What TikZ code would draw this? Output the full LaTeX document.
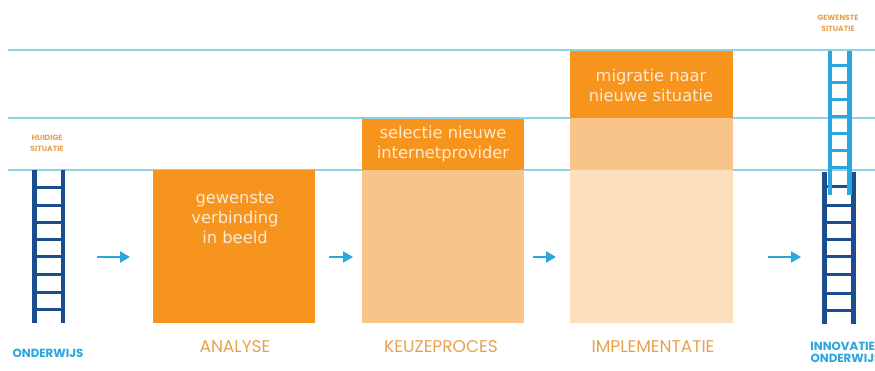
\documentclass[tikz,border=0pt]{standalone}
\usepackage{fontspec}
\setmainfont{DejaVu Sans}
\newfontfamily\labfont{Poppins}
\usetikzlibrary{arrows.meta}
\definecolor{orangeA}{HTML}{F7941D}
\definecolor{orangeB}{HTML}{F9C48A}
\definecolor{orangeC}{HTML}{FCDFBD}
\definecolor{gridcol}{HTML}{8ED3E3}
\definecolor{labcol}{HTML}{E5A24E}
\definecolor{bluetxt}{HTML}{2AA5DD}
\definecolor{darkladder}{HTML}{1A4E8E}
\definecolor{lightladder}{HTML}{2BA6DF}
\definecolor{boxtxt}{HTML}{FDEBD0}
\tikzset{
  gridline/.style={draw=gridcol, line width=1.4pt},
  boxtext/.style={text=boxtxt, align=center, font=\fontsize{16.3}{20}\selectfont, inner sep=0pt},
  phaselabel/.style={text=labcol, font=\labfont\fontsize{17}{18}\selectfont, inner sep=0pt},
  smalllabel/.style={text=labcol, font=\labfont\bfseries\fontsize{7.6}{11}\selectfont, align=center, inner sep=0pt},
  endlabel/.style={text=bluetxt, font=\labfont\bfseries\fontsize{11.8}{11.5}\selectfont, align=center, inner sep=0pt},
  flowarrow/.style={draw=lightladder, line width=2.5pt, -{Triangle[length=10pt,width=11pt]}},
}
\begin{document}
\begin{tikzpicture}[x=1pt,y=-1pt]
\useasboundingbox (0,0) rectangle (875,371);
% horizontal grid lines
\draw[gridline] (8,50) -- (875,50);
\draw[gridline] (8,118) -- (875,118);
\draw[gridline] (8,170) -- (875,170);
% analyse block
\fill[orangeA] (153,170) rectangle (315,323);
\node[boxtext] (analysetext) at (235,218) {gewenste\\verbinding\\in beeld};
% keuzeproces block
\fill[orangeA] (362,119) rectangle (524,170);
\fill[orangeB] (362,170) rectangle (524,323);
\node[boxtext] (keuzetext) at (443,144) {selectie nieuwe\\internetprovider};
% implementatie block
\fill[orangeA] (570,51) rectangle (733,118);
\fill[orangeB] (570,118) rectangle (733,170);
\fill[orangeC] (570,170) rectangle (733,323);
\node[boxtext] (impltext) at (651,85) {migratie naar\\nieuwe situatie};
% left ladder
\fill[darkladder] (32,170) rectangle (36.5,323);
\fill[darkladder] (60.5,170) rectangle (65,323);
\foreach \y in {188,205.5,223,240,257,274.5,292,309.5}
  \fill[darkladder] (32,\y-1.5) rectangle (65,\y+1.5);
% right dark ladder
\fill[darkladder] (822,172) rectangle (827,324);
\fill[darkladder] (851,172) rectangle (856,324);
\foreach \y in {187,206,223,240,257,275,293,310}
  \fill[darkladder] (822,\y-1.5) rectangle (856,\y+1.5);
% right light ladder
\fill[lightladder] (827.5,51) rectangle (832,195);
\fill[lightladder] (847,51) rectangle (851.5,195);
\foreach \y in {66,83,100,117,134,151,168}
  \fill[lightladder] (827.5,\y-1.5) rectangle (851.5,\y+1.5);
% arrows
\coordinate (a1s) at (97,257);  \coordinate (a1e) at (130,257);
\coordinate (a2s) at (329,257); \coordinate (a2e) at (353,257);
\coordinate (a3s) at (533,257); \coordinate (a3e) at (556,257);
\coordinate (a4s) at (768,257); \coordinate (a4e) at (801,257);
\draw[flowarrow] (a1s) -- (a1e);
\draw[flowarrow] (a2s) -- (a2e);
\draw[flowarrow] (a3s) -- (a3e);
\draw[flowarrow] (a4s) -- (a4e);
% labels
\node[smalllabel] (huidig) at (47,143.5) {HUIDIGE\\SITUATIE};
\node[smalllabel] (gewenst) at (838,23) {GEWENSTE\\SITUATIE};
\node[endlabel] (onderwijs) at (48,353) {ONDERWIJS};
\node[endlabel] (innovatief) at (846,352.5) {INNOVATIEF\\ONDERWIJS};
\node[phaselabel] (analyse) at (235,347) {ANALYSE};
\node[phaselabel] (keuze) at (441,347) {KEUZEPROCES};
\node[phaselabel] (impl) at (653,347) {IMPLEMENTATIE};
\end{tikzpicture}
\end{document}
